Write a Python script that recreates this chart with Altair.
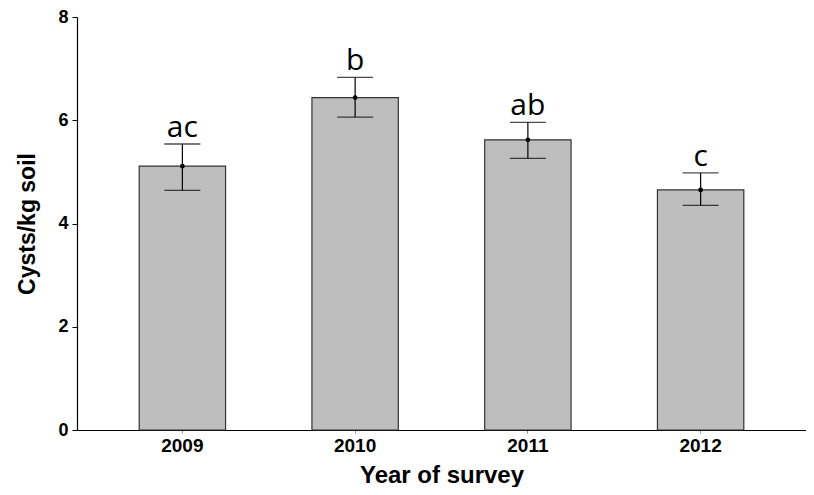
import altair as alt
import pandas as pd

years = ["2009", "2010", "2011", "2012"]
means = [5.11, 6.44, 5.62, 4.65]
lower = [4.64, 6.06, 5.26, 4.35]
upper = [5.54, 6.83, 5.96, 4.98]
letters = ["ac", "b", "ab", "c"]

df = pd.DataFrame({"year": years, "mean": means, "lower": lower,
                   "upper": upper, "letter": letters})

x = alt.X("year:N", title="Year of survey",
          scale=alt.Scale(paddingInner=0.5, paddingOuter=0.36),
          axis=alt.Axis(labelAngle=0, tickSize=3, tickColor="#888",
                        titlePadding=8, labelPadding=3))
y = alt.Y("mean:Q", title="Cysts/kg soil",
          scale=alt.Scale(domain=[0, 8], nice=False),
          axis=alt.Axis(values=[0, 2, 4, 6, 8], grid=False, tickSize=5,
                        tickColor="black", titlePadding=18, labelPadding=4))

base = alt.Chart(df).encode(x=x)
bars = base.mark_bar(color="#bebebe", stroke="#333333", strokeWidth=1.2).encode(y=y)
err = base.mark_rule(color="black", strokeWidth=1.2).encode(
    y="lower:Q", y2="upper:Q")
caps_u = base.mark_tick(color="black", size=36, thickness=1.3, orient="horizontal").encode(
    y="upper:Q")
caps_l = base.mark_tick(color="black", size=36, thickness=1.3, orient="horizontal").encode(
    y="lower:Q")
pts = base.mark_point(filled=True, color="black", size=22, opacity=1).encode(
    y="mean:Q")
txt = base.mark_text(font="Open Sans", fontSize=30, color="black",
                     baseline="bottom", dy=-1).encode(
    y="upper:Q", text="letter:N")

chart = alt.layer(bars, err, caps_u, caps_l, pts, txt).properties(
    width=729, height=413,
    padding={"left": 69, "top": 9, "right": 0, "bottom": 57},
    autosize=alt.AutoSizeParams(type="none")
).configure_view(stroke=None).configure_axis(
    labelFont="Liberation Sans", labelFontWeight="bold", labelColor="black",
    titleFont="Liberation Sans", titleFontWeight="bold", titleColor="black",
    domainColor="black", domainWidth=1.2
).configure_axisX(
    labelFontSize=19, titleFontSize=24
).configure_axisY(
    labelFontSize=18, titleFontSize=23
)

chart.save("out.html", embed_options={"renderer": "svg", "actions": False})
